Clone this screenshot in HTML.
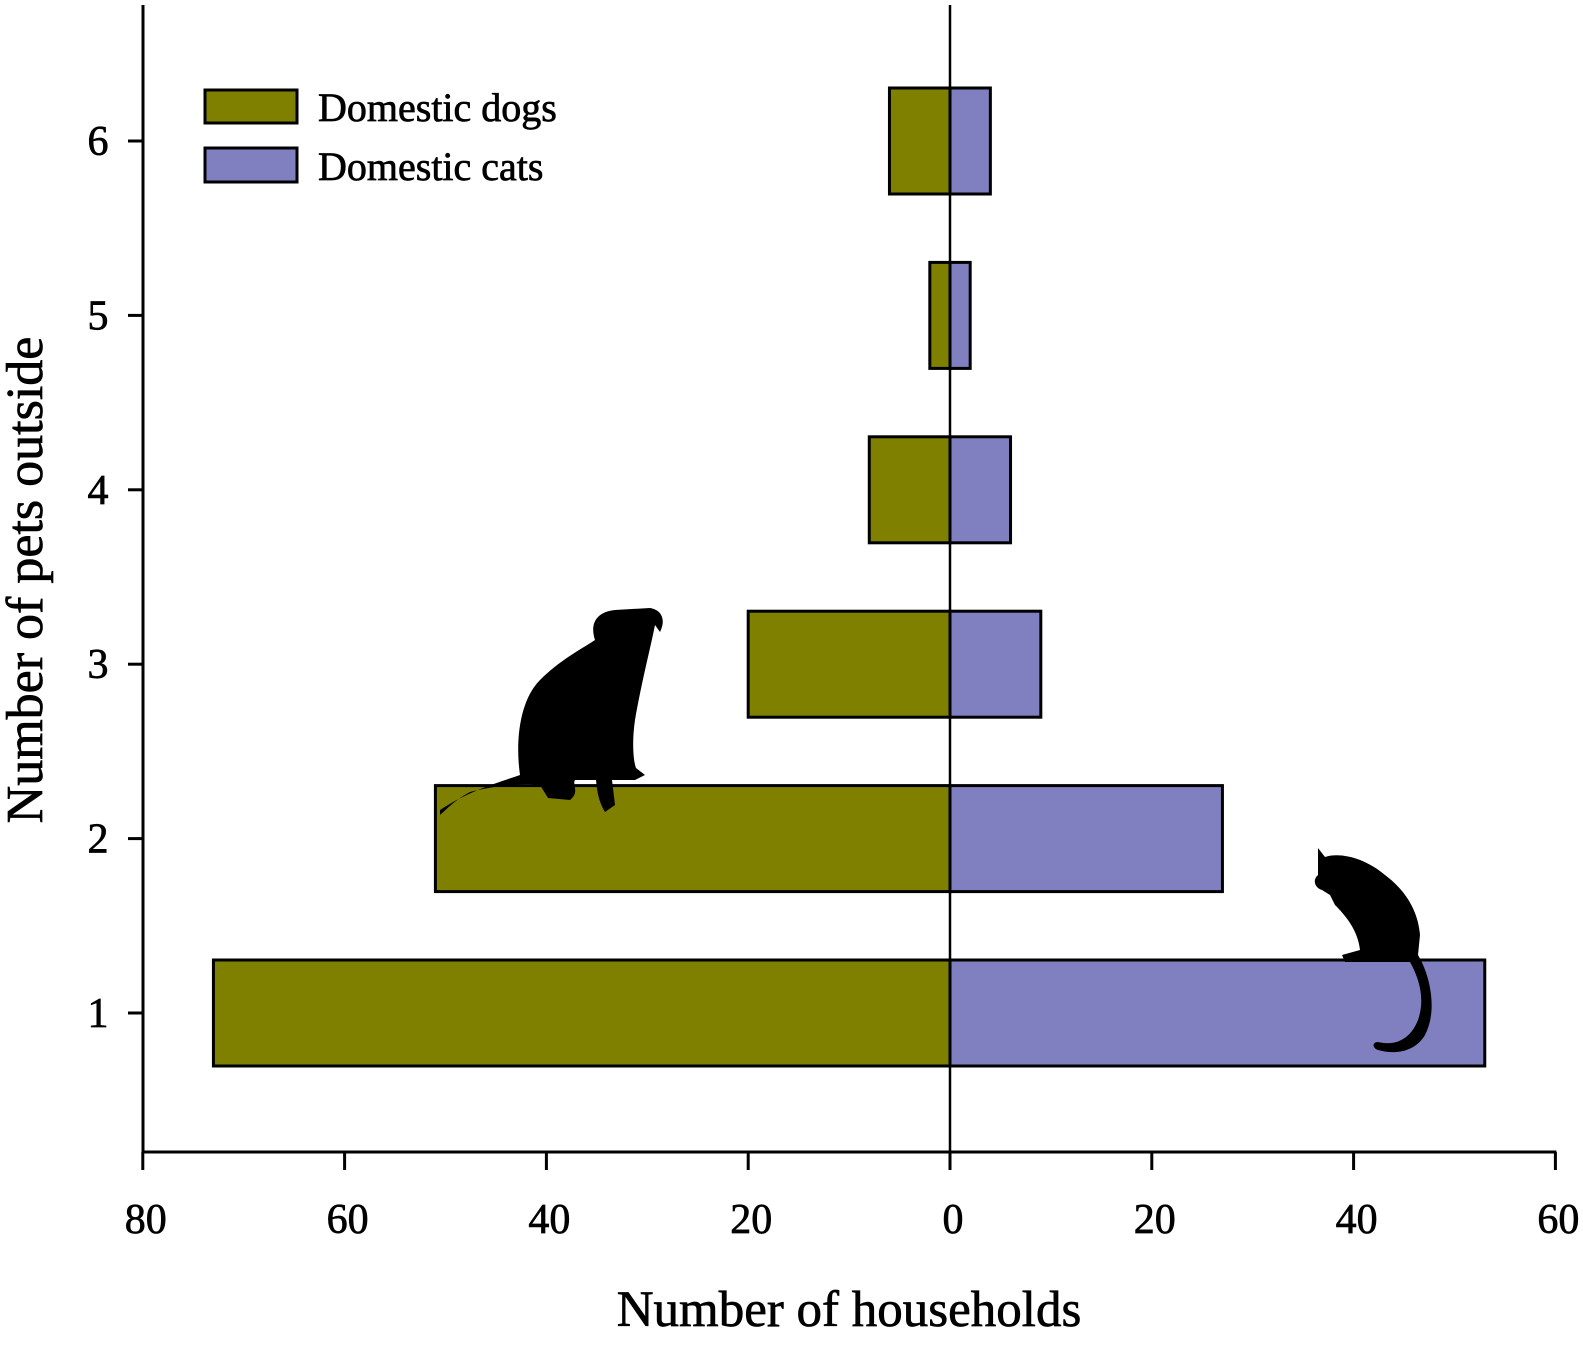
<!DOCTYPE html>
<html><head><meta charset="utf-8"><style>
body{margin:0;background:#fff}
svg{display:block}
text{font-family:"Liberation Serif",serif;fill:#000;stroke:#000;stroke-width:0.7}
</style></head><body>
<svg id="chart" width="1583" height="1353">
<g id="plot"></g>
<g>
<rect x="205" y="90" width="92" height="33" fill="#808000" stroke="#000" stroke-width="3"/>
<text x="318" y="121" font-size="40">Domestic dogs</text>
<rect x="205" y="148" width="92" height="34" fill="#8080c0" stroke="#000" stroke-width="3"/>
<text x="318" y="180" font-size="40">Domestic cats</text>
</g>
<text x="849" y="1326" font-size="51" text-anchor="middle">Number of households</text>
<text transform="translate(42,580) rotate(-90)" font-size="52" text-anchor="middle">Number of pets outside</text>
<path fill="#000" d="M440,810 C470,790 500,782 520,775 C515,740 520,700 540,680 C560,660 580,650 595,640 C590,625 595,612 615,610 L650,608 C662,610 666,620 660,632 L655,625 C650,650 642,680 635,720 C632,740 633,760 636,768 L645,775 L635,780 L612,780 L615,805 L605,812 C598,800 597,790 596,780 L575,780 C572,785 580,792 570,800 L548,798 L540,785 C520,782 490,787 470,792 C455,800 448,808 440,815 Z"/>
<path fill="#000" d="M1318,848 L1325,857 C1340,852 1365,858 1385,875 C1405,890 1418,910 1420,935 L1418,955 C1430,975 1438,1010 1425,1035 C1415,1052 1395,1055 1378,1050 C1372,1048 1372,1042 1378,1042 C1395,1046 1410,1040 1418,1020 C1425,1000 1420,980 1410,962 L1390,962 L1345,962 L1342,955 L1360,950 C1358,930 1345,915 1335,905 L1330,895 L1322,890 C1315,888 1312,880 1318,875 Z"/>
</svg>
<script>
const categories=[1,2,3,4,5,6];
const dogs=[73,51,20,8,2,6];
const cats=[53,27,9,6,2,4];
const xTicks=[80,60,40,20,0,20,40,60];
const xTickVals=[-80,-60,-40,-20,0,20,40,60];
const NS="http://www.w3.org/2000/svg";
const g=document.getElementById('plot');
const x0=950,pxU=10.09;
function xs(v){return x0+v*pxU;}
function ys(c){return 1013-(c-1)*174.4;}
const barH=106;
function mk(t,a){const e=document.createElementNS(NS,t);for(const k in a)e.setAttribute(k,a[k]);g.appendChild(e);return e;}
categories.forEach((c,i)=>{
 let r=mk('rect',{x:xs(-dogs[i]),y:ys(c)-barH/2,width:xs(0)-xs(-dogs[i]),height:barH,fill:'#808000',stroke:'#000','stroke-width':3});
 
 
 let r2=mk('rect',{x:xs(0),y:ys(c)-barH/2,width:xs(cats[i])-xs(0),height:barH,fill:'#8080c0',stroke:'#000','stroke-width':3});
 
 
 let t=mk('line',{x1:128,x2:143,y1:ys(c),y2:ys(c),stroke:'#000','stroke-width':3});
 
 
 let l=mk('text',{x:98,y:ys(c)+14,'font-size':42,'text-anchor':'middle'});
 l.textContent=c;
 
 
});
let ya=mk('line',{x1:143,x2:143,y1:5,y2:1152,stroke:'#000','stroke-width':3});


let cl=mk('line',{x1:x0,x2:x0,y1:5,y2:1152,stroke:'#000','stroke-width':2.5});


let xa=mk('line',{x1:143,x2:xs(60)+1,y1:1152,y2:1152,stroke:'#000','stroke-width':3});


xTickVals.forEach((v,i)=>{
 let t=mk('line',{x1:xs(v),x2:xs(v),y1:1152,y2:1170,stroke:'#000','stroke-width':3});
 
 
 let l=mk('text',{x:xs(v)+3,y:1233,'font-size':42,'text-anchor':'middle'});
 l.textContent=xTicks[i];
 
 
});
</script>
</body></html>
